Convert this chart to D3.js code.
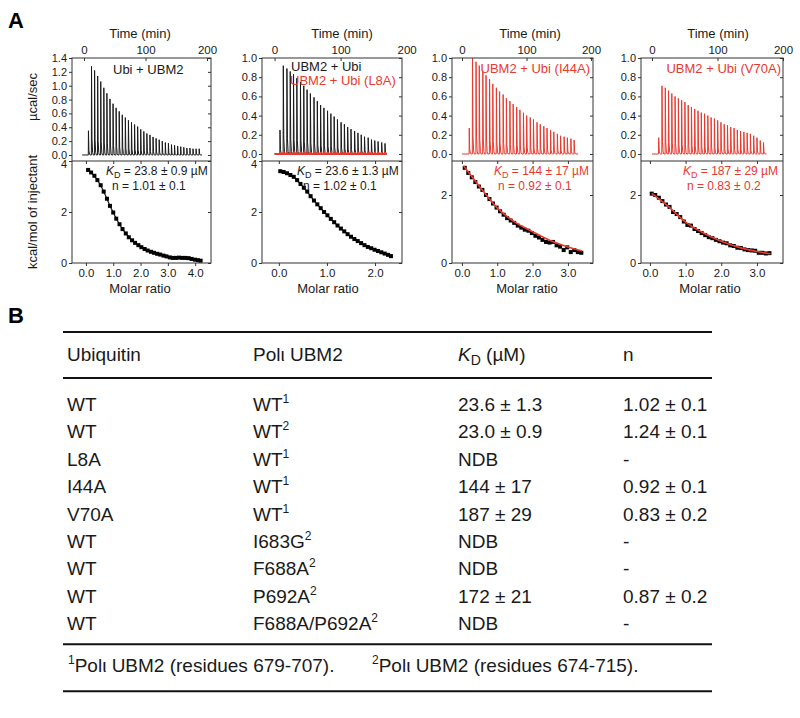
<!DOCTYPE html>
<html><head><meta charset="utf-8">
<script src="https://cdn.jsdelivr.net/npm/d3@7"></script>
<style>
body{margin:0;background:#fff}
svg{font-family:"Liberation Sans",Arial,Helvetica,sans-serif}
</style>
</head><body>
<svg id="c" width="800" height="718"></svg>
<script>
// ---------------- DATA ----------------
// Panel 1: Ubi + UBM2 (raw injections, time in min, peak height in ucal/sec)
const p1Times = [7,12,17,22,27,32,37,42,47,52,57,62,67,72,77,82,87,92,97,102,107,112,117,122,127,132,137,142,147,152,157,162,167,172,177,182,187];
const p1Peaks = [0.35,1.28,1.22,1.14,1.06,0.97,0.89,0.81,0.74,0.68,0.63,0.58,0.54,0.50,0.47,0.44,0.41,0.37,0.34,0.31,0.29,0.26,0.24,0.22,0.20,0.18,0.17,0.15,0.14,0.13,0.12,0.11,0.10,0.10,0.09,0.09,0.09];
const p1Ratio = [0.08,0.19,0.31,0.42,0.54,0.65,0.77,0.88,1.00,1.11,1.23,1.34,1.46,1.57,1.69,1.80,1.92,2.03,2.15,2.26,2.38,2.49,2.61,2.72,2.84,2.95,3.07,3.18,3.30,3.41,3.53,3.64,3.76,3.87,3.99,4.10,4.20];
const p1Heat = [3.65,3.55,3.42,3.25,3.05,2.80,2.52,2.24,1.98,1.74,1.52,1.33,1.16,1.01,0.89,0.79,0.70,0.62,0.55,0.49,0.44,0.40,0.36,0.33,0.29,0.26,0.22,0.20,0.20,0.21,0.20,0.20,0.19,0.16,0.13,0.11,0.09];

// Panel 2: UBM2 + Ubi (black) and UBM2 + Ubi (L8A) (red)
const p2Times = [8,13,18.5,23.5,28.5,33.5,39,44,49,54,59.5,64.5,69.5,74.5,80,85,90,95,100.5,105.5,110.5,115.5,121,126,131,136,141.5,146.5,151.5,156.5,162,167];
const p2Peaks = [0.25,0.92,0.89,0.86,0.83,0.79,0.75,0.71,0.67,0.63,0.59,0.55,0.51,0.48,0.45,0.42,0.39,0.36,0.33,0.31,0.28,0.26,0.24,0.22,0.20,0.18,0.17,0.15,0.14,0.13,0.12,0.11];
const p2PeaksL8A = [0.01,0.02,0.02,0.02,0.02,0.02,0.02,0.02,0.02,0.02,0.02,0.02,0.02,0.02,0.02,0.02,0.02,0.02,0.02,0.02,0.02,0.02,0.02,0.02,0.02,0.02,0.02,0.02,0.02,0.02,0.02,0.02];
const p2Ratio = [0.03,0.10,0.17,0.24,0.31,0.38,0.45,0.52,0.59,0.66,0.73,0.80,0.87,0.94,1.01,1.08,1.15,1.22,1.29,1.36,1.43,1.50,1.57,1.64,1.71,1.78,1.85,1.92,1.99,2.06,2.13,2.20,2.27,2.33];
const p2Heat = [3.60,3.57,3.52,3.45,3.38,3.25,3.10,2.95,2.80,2.62,2.45,2.30,2.15,2.00,1.87,1.73,1.60,1.47,1.35,1.24,1.13,1.03,0.94,0.86,0.78,0.70,0.63,0.58,0.52,0.47,0.42,0.37,0.32,0.27];

// Panel 3: UBM2 + Ubi (I44A)
const p3Times = [11,16,21.5,26.5,32,37,42.5,47.5,53,58,63.5,68.5,74,79,84.5,89.5,95,100,105.5,110.5,116,121,126.5,131.5,137,142,147.5,152.5,158,163,168.5,173.5];
const p3Peaks = [0.27,1.05,0.96,0.92,0.86,0.82,0.78,0.73,0.69,0.65,0.62,0.58,0.55,0.52,0.49,0.46,0.43,0.40,0.38,0.36,0.33,0.31,0.29,0.27,0.25,0.23,0.21,0.19,0.18,0.17,0.16,0.145];
const p3Ratio = [0.08,0.18,0.28,0.38,0.48,0.58,0.68,0.78,0.88,0.98,1.08,1.18,1.28,1.38,1.48,1.58,1.68,1.78,1.88,1.98,2.08,2.18,2.28,2.38,2.48,2.58,2.68,2.78,2.88,2.98,3.08,3.18,3.28,3.38];
const p3Heat = [2.80,2.65,2.52,2.38,2.25,2.15,2.00,1.88,1.75,1.63,1.52,1.42,1.32,1.25,1.18,1.10,1.04,0.98,0.95,0.88,0.80,0.75,0.68,0.62,0.60,0.62,0.52,0.48,0.38,0.46,0.32,0.38,0.32,0.30];
const p3FitRatio = [0.05,0.5,1.0,1.5,2.0,2.5,3.0,3.4];
const p3FitHeat = [2.85,2.25,1.62,1.20,0.92,0.66,0.47,0.35];

// Panel 4: UBM2 + Ubi (V70A)
const p4Times = [10,15,20,25,30,35,40,45,50,55,60,65,70,75,80,85,90,95,100,105,110,115,120,125,130,135,140,145,150,155,160,165,170];
const p4Peaks = [0.17,0.71,0.69,0.66,0.63,0.60,0.58,0.56,0.54,0.51,0.49,0.47,0.45,0.43,0.42,0.40,0.38,0.37,0.35,0.33,0.31,0.30,0.28,0.27,0.25,0.24,0.23,0.22,0.21,0.19,0.17,0.14,0.12];
const p4Ratio = [0.05,0.15,0.25,0.35,0.45,0.55,0.65,0.75,0.85,0.95,1.05,1.15,1.25,1.35,1.45,1.55,1.65,1.75,1.85,1.95,2.05,2.15,2.25,2.35,2.45,2.55,2.65,2.75,2.85,2.95,3.05,3.15,3.25,3.35];
const p4Heat = [2.04,2.00,1.92,1.82,1.72,1.65,1.50,1.44,1.35,1.22,1.12,1.10,1.00,0.94,0.88,0.82,0.76,0.73,0.68,0.64,0.60,0.58,0.52,0.50,0.45,0.44,0.40,0.38,0.37,0.36,0.30,0.30,0.28,0.29];
const p4FitRatio = [0.05,0.5,1.0,1.5,2.0,2.5,3.0,3.38];
const p4FitHeat = [2.05,1.68,1.20,0.88,0.64,0.46,0.34,0.27];

// Panel labels
const sampleLabels = ["Ubi + UBM2", "UBM2 + Ubi", "UBM2 + Ubi (L8A)", "UBM2 + Ubi (I44A)", "UBM2 + Ubi (V70A)"];
const kdLabels = ["23.8 ± 0.9 µM", "23.6 ± 1.3 µM", "144 ± 17 µM", "187 ± 29 µM"];
const nLabels = ["n = 1.01 ± 0.1", "n = 1.02 ± 0.1", "n = 0.92 ± 0.1", "n = 0.83 ± 0.2"];
const timeTicks = [0, 100, 200];

// Table B
const tableHeaders = ["Ubiquitin", "Polι UBM2", "KD (µM)", "n"];
const colUbiquitin = ["WT","WT","L8A","I44A","V70A","WT","WT","WT","WT"];
const colUBM2 = ["WT","WT","WT","WT","WT","I683G","F688A","P692A","F688A/P692A"];
const colUBM2Note = ["1","2","1","1","1","2","2","2","2"];
const colKD = ["23.6 ± 1.3","23.0 ± 0.9","NDB","144 ± 17","187 ± 29","NDB","NDB","172 ± 21","NDB"];
const colN = ["1.02 ± 0.1","1.24 ± 0.1","-","0.92 ± 0.1","0.83 ± 0.2","-","-","0.87 ± 0.2","-"];
const footnotes = [["1","Polι UBM2 (residues 679-707)."],["2","Polι UBM2 (residues 674-715)."]];

// ---------------- DRAW ----------------
const RED = "#e8392e";
const INK = "#1a1a1a";
const svg = d3.select("#c");
const TOP0 = 58, MID = 161, BOT1 = 263;

const panels = [
  {x0:72, x1:211, tDom:[-19.5,206.5], topDom:[-0.087,1.4], topTicks:[0,0.2,0.4,0.6,0.8,1.0,1.2,1.4], botDom:[0,4], botTicks:[0,2,4], mrDom:[-0.51,4.58], mrTicks:[0,1,2,3,4],
   traces:[{times:p1Times, peaks:p1Peaks, t0:-3, t1:192, color:INK, w:1}],
   pts:{r:p1Ratio, h:p1Heat}, fit:null, ptsLine:true, color:INK, timeLabelX:140, molarLabelX:140},
  {x0:262, x1:402, tDom:[-19,193], topDom:[-0.073,1.0], topTicks:[0,0.2,0.4,0.6,0.8,1.0], botDom:[0,4], botTicks:[0,2,4], mrDom:[-0.35,2.56], mrTicks:[0,1,2],
   traces:[{times:p2Times, peaks:p2Peaks, t0:0, t1:170, color:INK, w:1},{times:p2Times, peaks:p2PeaksL8A, t0:0, t1:170, color:RED, w:2}],
   pts:{r:p2Ratio, h:p2Heat}, fit:null, ptsLine:true, color:INK, timeLabelX:342, molarLabelX:328},
  {x0:452, x1:593, tDom:[-15.5,203], topDom:[-0.073,1.0], topTicks:[0,0.2,0.4,0.6,0.8,1.0], botDom:[0,3], botTicks:[0,2], mrDom:[-0.28,3.71], mrTicks:[0,1,2,3],
   traces:[{times:p3Times, peaks:p3Peaks, t0:0, t1:180, color:RED, w:1}],
   pts:{r:p3Ratio, h:p3Heat}, fit:{r:p3FitRatio, h:p3FitHeat}, ptsLine:false, color:RED, timeLabelX:530, molarLabelX:527},
  {x0:641, x1:783, tDom:[-16.8,200], topDom:[-0.073,1.0], topTicks:[0,0.2,0.4,0.6,0.8,1.0], botDom:[0,3], botTicks:[0,2], mrDom:[-0.25,3.73], mrTicks:[0,1,2,3],
   traces:[{times:p4Times, peaks:p4Peaks, t0:0, t1:175, color:RED, w:1}],
   pts:{r:p4Ratio, h:p4Heat}, fit:{r:p4FitRatio, h:p4FitHeat}, ptsLine:false, color:RED, timeLabelX:718, molarLabelX:710}
];

function styleAxis(g, fs){
  g.selectAll(".domain").remove();
  g.selectAll("line").attr("stroke", "#333").attr("stroke-width", 1);
  g.selectAll("text").attr("fill", INK).attr("font-size", fs).attr("font-family", "Liberation Sans, Arial, sans-serif");
}

const defs = svg.append("defs");

panels.forEach((p, i) => {
  const xT = d3.scaleLinear().domain(p.tDom).range([p.x0, p.x1]);
  const yT = d3.scaleLinear().domain(p.topDom).range([MID, TOP0]);
  const xM = d3.scaleLinear().domain(p.mrDom).range([p.x0, p.x1]);
  const yB = d3.scaleLinear().domain(p.botDom).range([BOT1, MID]);

  defs.append("clipPath").attr("id", "clipT" + i).append("rect")
    .attr("x", p.x0).attr("y", TOP0).attr("width", p.x1 - p.x0).attr("height", MID - TOP0);
  defs.append("clipPath").attr("id", "clipB" + i).append("rect")
    .attr("x", p.x0).attr("y", MID).attr("width", p.x1 - p.x0).attr("height", BOT1 - MID);

  // raw traces
  const gT = svg.append("g").attr("clip-path", `url(#clipT${i})`);
  p.traces.forEach(tr => {
    const pts = [[tr.t0, 0]];
    tr.times.forEach((t, k) => {
      const h = tr.peaks[k];
      pts.push([t, 0], [t + 0.25, h], [t + 1.0, h * 0.18], [t + 2.0, h * 0.03], [t + 3.0, 0]);
    });
    pts.push([tr.t1, 0]);
    gT.append("path")
      .attr("d", d3.line().x(d => xT(d[0])).y(d => yT(d[1]))(pts))
      .attr("fill", "none").attr("stroke", tr.color).attr("stroke-width", tr.w)
      .attr("stroke-linejoin", "miter");
  });

  // binding isotherm
  const gB = svg.append("g").attr("clip-path", `url(#clipB${i})`);
  const data = p.pts.r.map((r, k) => [r, p.pts.h[k]]);
  if (p.ptsLine) {
    gB.append("path").attr("d", d3.line().x(d => xM(d[0])).y(d => yB(d[1]))(data))
      .attr("fill", "none").attr("stroke", INK).attr("stroke-width", 1.2);
  }
  gB.selectAll("rect.pt").data(data).join("rect").attr("class", "pt")
    .attr("x", d => xM(d[0]) - 2).attr("y", d => yB(d[1]) - 2)
    .attr("width", 4).attr("height", 4).attr("fill", "#000");
  if (p.fit) {
    const fd = p.fit.r.map((r, k) => [r, p.fit.h[k]]);
    gB.append("path").attr("d", d3.line().curve(d3.curveMonotoneX).x(d => xM(d[0])).y(d => yB(d[1]))(fd))
      .attr("fill", "none").attr("stroke", RED).attr("stroke-width", 1.6);
  }

  // axes: top panel
  const aL = svg.append("g").attr("transform", `translate(${p.x0},0)`)
    .call(d3.axisLeft(yT).tickValues(p.topTicks).tickSize(3).tickPadding(2).tickFormat(d3.format(".1f")));
  styleAxis(aL, 11);
  const aR = svg.append("g").attr("transform", `translate(${p.x1},0)`)
    .call(d3.axisRight(yT).tickValues(p.topTicks).tickSize(-3).tickFormat(""));
  styleAxis(aR, 11);
  const aTop = svg.append("g").attr("transform", `translate(0,${TOP0})`)
    .call(d3.axisTop(xT).tickValues(timeTicks).tickSize(-3).tickPadding(4).tickFormat(d3.format("d")));
  styleAxis(aTop, 11.5);
  aTop.selectAll(".tick").filter(d => xT(d) > p.x1 + 0.5).select("line").remove();

  // axes: bottom panel
  const bL = svg.append("g").attr("transform", `translate(${p.x0},0)`)
    .call(d3.axisLeft(yB).tickValues(p.botTicks).tickSize(3).tickPadding(2).tickFormat(d3.format("d")));
  styleAxis(bL, 11);
  // nudge the top "4"/"2" label slightly so it sits just under the 0.0 label, as in the reference
  bL.selectAll(".tick text").filter(d => d === p.botDom[1]).attr("dy", "0.55em");
  const bR = svg.append("g").attr("transform", `translate(${p.x1},0)`)
    .call(d3.axisRight(yB).tickValues(p.botTicks).tickSize(-3).tickFormat(""));
  styleAxis(bR, 11);
  const bB = svg.append("g").attr("transform", `translate(0,${BOT1})`)
    .call(d3.axisBottom(xM).tickValues(p.mrTicks).tickSize(3).tickPadding(3).tickFormat(d3.format(".1f")));
  styleAxis(bB, 11.5);
  const bT = svg.append("g").attr("transform", `translate(0,${MID})`)
    .call(d3.axisBottom(xM).tickValues(p.mrTicks).tickSize(3).tickFormat(""));
  styleAxis(bT, 11);

  // frames
  svg.append("rect").attr("x", p.x0).attr("y", TOP0).attr("width", p.x1 - p.x0).attr("height", BOT1 - TOP0)
    .attr("fill", "none").attr("stroke", "#333").attr("stroke-width", 1);
  svg.append("line").attr("x1", p.x0).attr("x2", p.x1).attr("y1", MID).attr("y2", MID)
    .attr("stroke", "#333").attr("stroke-width", 1.2);

  // axis titles
  svg.append("text").attr("x", p.timeLabelX).attr("y", 38).attr("text-anchor", "middle")
    .attr("font-size", 13).attr("fill", INK).text("Time (min)");
  svg.append("text").attr("x", p.molarLabelX).attr("y", 293).attr("text-anchor", "middle")
    .attr("font-size", 13).attr("fill", INK).text("Molar ratio");
});

// y titles (panel 1 only)
svg.append("text").attr("transform", "translate(37,97) rotate(-90)").attr("text-anchor", "middle")
  .attr("font-size", 13).attr("fill", INK).text("µcal/sec");
svg.append("text").attr("transform", "translate(37,212) rotate(-90)").attr("text-anchor", "middle")
  .attr("font-size", 13).attr("fill", INK).text("kcal/mol of injectant");

// sample labels
function label(x, y, txt, color, anchor){
  svg.append("text").attr("x", x).attr("y", y).attr("text-anchor", anchor || "start")
    .attr("font-size", 13).attr("fill", color).text(txt);
}
label(113, 74, sampleLabels[0], INK);
label(291, 71, sampleLabels[1], INK);
label(290, 85, sampleLabels[2], RED);
label(590, 73, sampleLabels[3], RED, "end");
label(781, 73, sampleLabels[4], RED, "end");

// KD / n labels
function kdLabel(x, y, val, color, anchor){
  const t = svg.append("text").attr("x", x).attr("y", y).attr("text-anchor", anchor || "start")
    .attr("font-size", 12).attr("fill", color);
  t.append("tspan").attr("font-style", "italic").text("K");
  t.append("tspan").attr("font-size", 9).attr("dy", 2.5).text("D");
  t.append("tspan").attr("dy", -2.5).text(" = " + val);
}
const kdPos = [[106,"start",INK],[297,"start",INK],[589,"end",RED],[778,"end",RED]];
const nPos = [[112,"start",INK],[303,"start",INK],[498,"start",RED],[687,"start",RED]];
kdPos.forEach((k, i) => kdLabel(k[0], 175, kdLabels[i], k[2], k[1]));
nPos.forEach((k, i) => svg.append("text").attr("x", k[0]).attr("y", 190).attr("text-anchor", k[1])
  .attr("font-size", 12).attr("fill", k[2]).text(nLabels[i]));

// panel letters
svg.append("text").attr("x", 8).attr("y", 28).attr("font-size", 22).attr("font-weight", "bold").attr("fill", "#000").text("A");
svg.append("text").attr("x", 8).attr("y", 323).attr("font-size", 22).attr("font-weight", "bold").attr("fill", "#000").text("B");

// ---------------- TABLE ----------------
const TX0 = 63, TX1 = 712;
const colX = [67, 253, 458, 623];
const FS = 19;
const rowY0 = 411, rowStep = 27.4;
const rule = y => svg.append("line").attr("x1", TX0).attr("x2", TX1).attr("y1", y).attr("y2", y)
  .attr("stroke", "#111").attr("stroke-width", 2);
rule(332); rule(378);
const lastRowY = rowY0 + rowStep * (colUbiquitin.length - 1);
rule(lastRowY + 14); rule(lastRowY + 61);

// header
tableHeaders.forEach((h, i) => {
  const t = svg.append("text").attr("x", colX[i]).attr("y", 361).attr("font-size", FS).attr("fill", INK);
  if (i === 2) {
    t.append("tspan").attr("font-style", "italic").text("K");
    t.append("tspan").attr("font-size", 14).attr("dy", 4).text("D");
    t.append("tspan").attr("dy", -4).text(" (µM)");
  } else t.text(h);
});

colUbiquitin.forEach((u, r) => {
  const y = rowY0 + r * rowStep;
  svg.append("text").attr("x", colX[0]).attr("y", y).attr("font-size", FS).attr("fill", INK).text(u);
  const t = svg.append("text").attr("x", colX[1]).attr("y", y).attr("font-size", FS).attr("fill", INK);
  t.append("tspan").text(colUBM2[r]);
  t.append("tspan").attr("font-size", 12).attr("dy", -8).text(colUBM2Note[r]);
  svg.append("text").attr("x", colX[2]).attr("y", y).attr("font-size", FS).attr("fill", INK).text(colKD[r]);
  svg.append("text").attr("x", colX[3]).attr("y", y).attr("font-size", FS).attr("fill", INK).text(colN[r]);
});

const footX = [68, 372];
footnotes.forEach((f, i) => {
  const t = svg.append("text").attr("x", footX[i]).attr("y", lastRowY + 42).attr("font-size", FS).attr("fill", INK);
  t.append("tspan").attr("font-size", 12).attr("dy", -8).text(f[0]);
  t.append("tspan").attr("dy", 8).text(f[1]);
});
</script>
</body></html>
